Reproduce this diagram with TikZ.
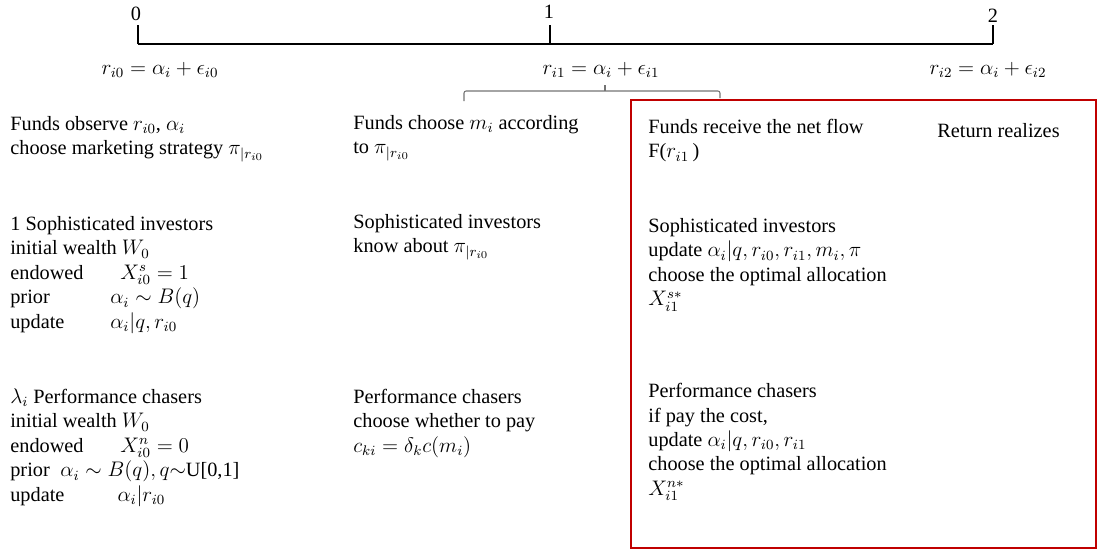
\documentclass[tikz,border=0pt]{standalone}
\usepackage{amsmath,amssymb}
\usepackage{fontspec}
\setmainfont{Liberation Serif}
\usetikzlibrary{positioning}
\definecolor{boxred}{RGB}{192,0,0}
\tikzset{
  txt/.style={anchor=north west, align=left, inner sep=0pt,
              font=\fontsize{11.55}{13.94}\selectfont},
  lbl/.style={inner sep=0pt, font=\fontsize{11.55}{13.94}\selectfont},
  tline/.style={line width=1.1pt},
  tk/.style={line width=0.6pt},
  brk/.style={draw=black!55, line width=0.6pt, rounded corners=1.2pt},
  redbox/.style={draw=boxred, line width=1.5pt}
}
\newcommand{\tab}[2]{\makebox[#1][l]{#2}}
\begin{document}
\begin{tikzpicture}[x=0.02cm, y=-0.02cm]
\useasboundingbox (0,0) rectangle (1098,552);
% ---- time line ----
\coordinate (t0) at (138,44);
\coordinate (t1) at (550,44);
\coordinate (t2) at (993,44);
\draw[tline] (t0) -- (t2);
\foreach \t in {t0,t1,t2} \draw[tk] (\t) -- ++(0,-19);
\node[lbl] (d0) at (136,14) {0};
\node[lbl] (d1) at (549,12) {1};
\node[lbl] (d2) at (993,16) {2};
\node[lbl] (r0) at (160,70) {$r_{i0} = \alpha_i + \epsilon_{i0}$};
\node[lbl] (r1) at (601,70) {$r_{i1} = \alpha_i + \epsilon_{i1}$};
\node[lbl] (r2) at (988,70) {$r_{i2} = \alpha_i + \epsilon_{i2}$};
% ---- bracket and box ----
\draw[brk] (464,101) |- (720,91) -- (720,98);
\draw[brk] (605,91) -- (605,85);
\draw[redbox] (631,100) rectangle (1096,548);
% ---- column 1: date 0 ----
\node[txt] (f0) at (10,113) {\strut Funds observe $r_{i0}$, $\alpha_i$\\
  choose marketing strategy $\pi_{|r_{i0}}$};
\node[txt] (s0) at (10,213) {\strut 1 Sophisticated investors\\
  initial wealth $W_0$\\
  \tab{62.6pt}{endowed}$X^{s}_{i0} = 1$\\
  \tab{56.9pt}{prior}$\alpha_i \sim B(q)$\\
  \tab{56.9pt}{update}$\alpha_i|q, r_{i0}$};
\node[txt] (p0) at (10,386) {\strut $\lambda_i$ Performance chasers\\
  initial wealth $W_0$\\
  \tab{62.6pt}{endowed}$X^{n}_{i0} = 0$\\
  \tab{28.5pt}{prior}$\alpha_i \sim B(q), q{\sim}$U[0,1]\\
  \tab{61pt}{update}$\alpha_i|r_{i0}$};
% ---- column 2: date 1 ----
\node[txt] (f1) at (353,112) {\strut Funds choose $m_i$ according\\
  to $\pi_{|r_{i0}}$};
\node[txt] (s1) at (353,211) {\strut Sophisticated investors\\
  know about $\pi_{|r_{i0}}$};
\node[txt] (p1) at (353,386) {\strut Performance chasers\\
  choose whether to pay\\
  $c_{ki} = \delta_k c(m_i)$};
% ---- column 3: after the flow ----
\node[txt] (f2) at (648,116) {\strut Funds receive the net flow\\
  F($r_{i1}$\,)};
\node[txt] (ret) at (937,120) {\strut Return realizes};
\node[txt] (s2) at (648,215) {\strut Sophisticated investors\\
  update $\alpha_i|q, r_{i0}, r_{i1}, m_i, \pi$\\
  choose the optimal allocation\\
  $X^{s*}_{i1}$};
\node[txt] (p2) at (648,380) {\strut Performance chasers\\
  if pay the cost,\\
  update $\alpha_i|q, r_{i0}, r_{i1}$\\
  choose the optimal allocation\\
  $X^{n*}_{i1}$};
\end{tikzpicture}
\end{document}
